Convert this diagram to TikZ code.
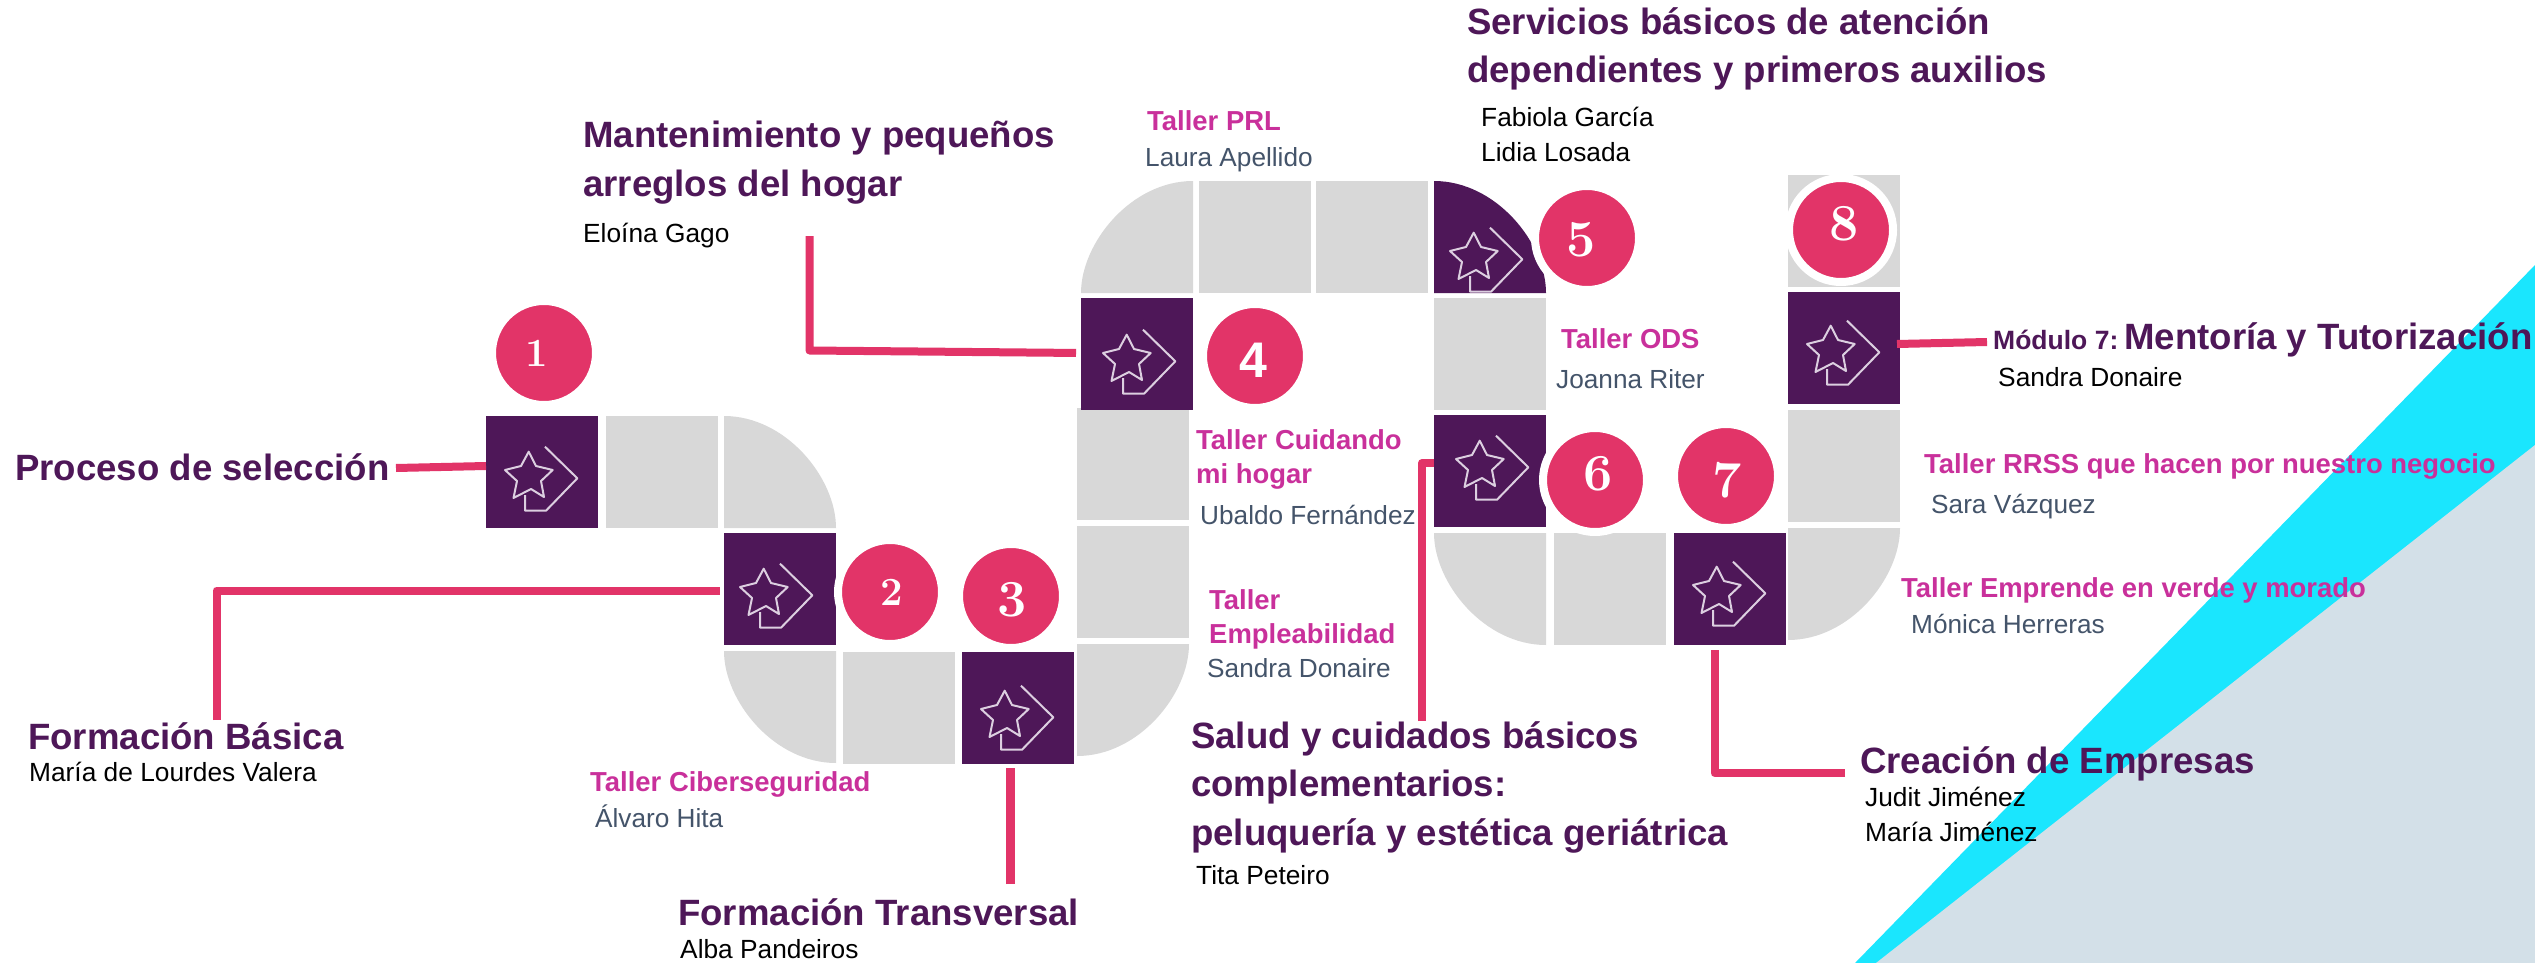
\documentclass[tikz,border=0pt]{standalone}
\usepackage{fontspec}
\newfontfamily\arialf{Liberation Sans}
\definecolor{pinkline}{HTML}{E23468}
\definecolor{deeppurple}{HTML}{4E1758}
\definecolor{tilegray}{HTML}{D8D8D8}
\definecolor{tallerpink}{HTML}{C9309B}
\definecolor{slatename}{HTML}{44546A}
\definecolor{cyanband}{HTML}{1AE6FE}
\definecolor{paleblue}{HTML}{D3E0E8}
\definecolor{iconline}{HTML}{DCCFE0}
\tikzset{
  tilebox/.style={minimum size=112pt,inner sep=0pt,outer sep=0pt,draw=none},
  graytile/.style={tilebox,fill=tilegray},
  purptile/.style={tilebox,fill=deeppurple},
  numdisc/.style={circle,minimum size=104pt,inner sep=0pt,outer sep=0pt,fill=pinkline,draw=white,line width=8pt},
  numsmall/.style={inner sep=0pt,text=white,font=\bfseries\fontsize{40}{40}\selectfont},
  numbig/.style={inner sep=0pt,text=white,font=\bfseries\fontsize{52}{52}\selectfont},
  numsans/.style={inner sep=0pt,text=white,font=\arialf\bfseries\fontsize{50}{50}\selectfont},
  conn/.style={draw=pinkline,line width=8pt,line join=round},
  ttl/.style={anchor=base west,inner sep=0pt,align=left,text=deeppurple,font=\arialf\bfseries\fontsize{36.6}{48.5}\selectfont},
  taller/.style={anchor=base west,inner sep=0pt,align=left,text=tallerpink,font=\arialf\bfseries\fontsize{27.45}{33.5}\selectfont},
  slate/.style={anchor=base west,inner sep=0pt,text=slatename,font=\arialf\fontsize{26.2}{35}\selectfont},
  blackname/.style={anchor=base west,inner sep=0pt,align=left,text=black,font=\arialf\fontsize{26.3}{35}\selectfont},
  iconstroke/.style={draw=iconline,line width=2pt,line join=round}
}
\newcommand{\staricon}[3]{%
  \begin{scope}[shift={(#1.north west)},xshift=#2pt,yshift=-#3pt]
    \draw[iconstroke] (42.7,35.7) -- (50,50) -- (66.7,54) -- (55,65) -- (58,81) -- (45,73) -- (27.5,82) -- (31,65) -- (19,54) -- (35,50) -- cycle;
    \draw[iconstroke] (59,30.7) -- (91.3,62.3) -- (60,94.7) -- (39,94.7) -- (39,79);
  \end{scope}}
\newcommand{\quartTR}[2]{\fill[#2] (#1.north west) .. controls +(62,0) and ($(#1.south east)+(0,-50)$) .. (#1.south east) -- (#1.south west) -- cycle;}
\newcommand{\quartTL}[2]{\fill[#2] (#1.north east) .. controls +(-62,0) and ($(#1.south west)+(0,-50)$) .. (#1.south west) -- (#1.south east) -- cycle;}
\newcommand{\quartBL}[2]{\fill[#2] (#1.south east) .. controls +(-62,0) and ($(#1.north west)+(0,50)$) .. (#1.north west) -- (#1.north east) -- cycle;}
\newcommand{\quartBR}[2]{\fill[#2] (#1.south west) .. controls +(62,0) and ($(#1.north east)+(0,50)$) .. (#1.north east) -- (#1.north west) -- cycle;}
\usetikzlibrary{calc}
\begin{document}
\begin{tikzpicture}[x=1pt,y=-1pt]
\useasboundingbox (0,0) rectangle (2535,963);
\fill[white] (0,0) rectangle (2535,963);
% background bands
\fill[cyanband] (2535,265) -- (2535,963) -- (1855,963) -- cycle;
\fill[paleblue] (2535,445) -- (2535,963) -- (1876,963) -- cycle;

% tiles
\node[purptile] (s1) at (542,472) {};
\node[graytile] (g1) at (662,472) {};
\node[tilebox] (q1) at (780,472) {};
\node[purptile] (s2) at (780,589) {};
\node[tilebox] (q2) at (780,707) {};
\node[graytile] (g2) at (899,708) {};
\node[purptile] (s3) at (1018,708) {};
\node[tilebox] (q3) at (1133,700) {};
\node[graytile] (g3) at (1133,582) {};
\node[graytile] (g4) at (1133,464) {};
\node[purptile] (s4) at (1137,354) {};
\node[tilebox] (q4) at (1137,237) {};
\node[graytile] (g5) at (1255,237) {};
\node[graytile] (g6) at (1372,237) {};
\node[tilebox] (q5) at (1490,237) {};
\node[graytile] (g7) at (1490,354) {};
\node[purptile] (s6) at (1490,471) {};
\node[tilebox] (q6) at (1490,589) {};
\node[graytile] (g8) at (1610,589) {};
\node[purptile] (s7) at (1730,589) {};
\node[tilebox] (q7) at (1844,584) {};
\node[graytile] (g9) at (1844,466) {};
\node[purptile] (s8) at (1844,348) {};
\node[graytile] (g10) at (1844,231) {};
\quartTR{q1}{tilegray}
\quartBL{q2}{tilegray}
\quartBR{q3}{tilegray}
\quartTL{q4}{tilegray}
\quartTR{q5}{deeppurple}
\quartBL{q6}{tilegray}
\quartBR{q7}{tilegray}

\staricon{s1}{0}{0}
\staricon{s2}{-3}{0}
\staricon{s3}{0}{3}
\staricon{s4}{3}{1}
\staricon{q5}{-3}{16}
\staricon{s6}{3}{-10}
\staricon{s7}{0}{-2}
\staricon{s8}{0}{-2}

% number discs
\node[numdisc] (c1) at (544,353) {};
\node[numdisc] (c2) at (890,592) {};
\node[numdisc] (c3) at (1011,596) {};
\node[numdisc] (c4) at (1255,356) {};
\node[numdisc] (c5) at (1587,238) {};
\node[numdisc] (c6) at (1595,480) {};
\node[numdisc] (c7) at (1726,476) {};
\node[numdisc] (c8) at (1841,230) {};
\node[numsmall] (n1) at (537,353) {1};
\node[numsmall] (n2) at (892,592) {2};
\node[numbig] (n3) at (1012,600) {3};
\node[numsans] (n4) at (1253,360) {4};
\node[numbig] (n5) at (1581,240) {5};
\node[numbig] (n6) at (1598,474) {6};
\node[numbig] (n7) at (1727,480) {7};
\node[numbig] (n8) at (1844,224) {8};

% connector free ends
\coordinate (k1) at (396,468);
\coordinate (k2) at (216.5,720);
\coordinate (k3) at (809.5,236);
\coordinate (k3b) at (809.5,350.5);
\coordinate (k4) at (1010,884);
\coordinate (k5) at (1422,721);
\coordinate (k6) at (1845,773);
\coordinate (k7) at (1987,342);
\draw[conn] (k1) -- ([yshift=6pt]s1.west);
\draw[conn,shorten >=4pt] (k2) |- ([yshift=-1.5pt]s2.west);
\draw[conn,shorten >=5pt] (k3) -- (k3b) -- ([yshift=1pt]s4.west);
\draw[conn,line width=9pt,shorten >=4pt] (k4) -- (k4 |- s3.south);
\draw[conn] (k5) |- ([yshift=8pt]s6.west);
\draw[conn,shorten >=5pt] (k6) -| ([xshift=-15.5pt]s7.south);
\draw[conn] (k7) -- ([yshift=4pt,xshift=-3pt]s8.east);

% labels
\node[ttl] (t1) at (15,480) {Proceso de selección};
\node[ttl] (t2) at (28,749) {Formación Básica};
\node[blackname] (p2) at (29,781) {María de Lourdes Valera};
\node[taller] (w1) at (590,791) {Taller Ciberseguridad};
\node[slate] (p3) at (595,827) {Álvaro Hita};
\node[ttl] (t3) at (678,925) {Formación Transversal};
\node[blackname] (p4) at (680,958) {Alba Pandeiros};
\node[ttl] (t4) at (583,196) {Mantenimiento y pequeños\\arreglos del hogar};
\node[blackname] (p5) at (583,242) {Eloína Gago};
\node[taller] (w2) at (1147,131) {Taller PRL};
\node[slate] (p6) at (1145,167) {Laura Apellido};
\node[ttl] (t5) at (1467,83) {Servicios básicos de atención\\dependientes y primeros auxilios};
\node[blackname] (p7) at (1481,161) {Fabiola García\\Lidia Losada};
\node[taller] (w3) at (1561,348) {Taller ODS};
\node[slate] (p8) at (1556,388) {Joanna Riter};
\node[taller] (w4) at (1196,483) {Taller Cuidando\\mi hogar};
\node[slate] (p9) at (1200,524) {Ubaldo Fernández};
\node[taller] (w5) at (1209,643) {Taller\\Empleabilidad};
\node[slate] (p10) at (1207,677) {Sandra Donaire};
\node[ttl] (t6) at (1191,845) {Salud y cuidados básicos\\complementarios:\\peluquería y estética geriátrica};
\node[blackname] (p11) at (1196,884) {Tita Peteiro};
\node[ttl] (t7) at (1860,773) {Creación de Empresas};
\node[blackname] (p12) at (1865,841) {Judit Jiménez\\María Jiménez};
\node[ttl] (t8) at (1993,349) {{\fontsize{26.5}{26}\selectfont Módulo 7:\hspace{6pt}}Mentoría y Tutorización};
\node[blackname] (p13) at (1998,386) {Sandra Donaire};
\node[taller] (w6) at (1924,473) {Taller RRSS que hacen por nuestro negocio};
\node[slate] (p14) at (1931,513) {Sara Vázquez};
\node[taller] (w7) at (1901,597) {Taller Emprende en verde y morado};
\node[slate] (p15) at (1911,633) {Mónica Herreras};
\end{tikzpicture}
\end{document}
